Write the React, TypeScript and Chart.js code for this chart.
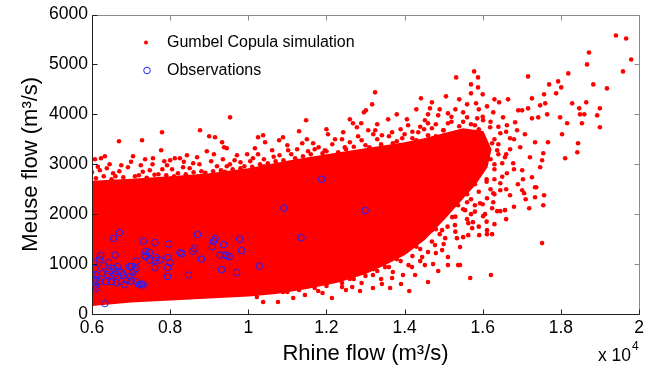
import React, { useEffect, useRef } from 'react';
import { Chart, registerables } from 'chart.js';

Chart.register(...registerables);

const FONT = 'Arial, "Liberation Sans", sans-serif';

// Axis ticks (data units) and the labels shown for them
const xTickValues = [6000, 8000, 10000, 12000, 14000, 16000, 18000, 20000];
const xTickLabels = ['0.6', '0.8', '1', '1.2', '1.4', '1.6', '1.8', '2'];
const yTickValues = [0, 1000, 2000, 3000, 4000, 5000, 6000];
const yTickLabels = ['0', '1000', '2000', '3000', '4000', '5000', '6000'];

// Outline of the saturated (solid red) core of the Gumbel copula simulation cloud
const simCoreOutline: [number, number][] = [
  [6000, 180], [7000, 250], [8000, 290], [9000, 330], [10000, 370], [10700, 420],
  [11500, 520], [12300, 650], [13000, 820], [13500, 1000], [14000, 1200], [14500, 1500],
  [15000, 1900], [15400, 2250], [15800, 2600], [16100, 2950], [16200, 3300], [16000, 3650],
  [15500, 3700], [15000, 3600], [14500, 3500], [14000, 3420], [13000, 3300], [12000, 3180],
  [11000, 3050], [10000, 2900], [9000, 2800], [8000, 2740], [7000, 2690], [6000, 2650], [6000, 180],
];

// Dense speckled band just outside the core
const simEdgeBand: [number, number][] = [
  [6100, 2720], [6300, 2760], [6500, 2700], [6800, 2740], [7100, 2760], [7400, 2730], [7600, 2790],
  [7900, 2780], [8100, 2760], [8400, 2800], [8600, 2840], [8900, 2830], [9100, 2860], [9400, 2850],
  [9600, 2900], [9900, 2960], [10100, 2950], [10300, 3000], [10500, 3020], [10700, 3060], [6200, 2880],
  [6700, 2860], [7300, 2850], [7800, 2900], [8500, 2920], [9200, 2960], [9800, 3040], [10400, 3100],
  [10800, 3180], [11200, 3120], [11600, 3200], [12000, 3260], [12300, 3240], [12700, 3350], [13000, 3380],
  [13400, 3400], [13800, 3460], [14200, 3520], [14600, 3580], [15000, 3680], [15400, 3760], [15800, 3780],
  [11100, 3200], [11800, 3340], [12600, 3440], [13300, 3500], [14000, 3600], [14500, 3700], [15200, 3850],
  [11000, 440], [11300, 480], [11700, 520], [12000, 560], [12400, 620], [12700, 700], [13000, 760],
  [13300, 860], [13600, 940], [13900, 1060], [14200, 1160], [14400, 1300], [14700, 1450], [14900, 1600],
  [15100, 1750], [15300, 1950], [15500, 2100], [15700, 2300], [15900, 2450], [16100, 2650], [16300, 2700],
  [16300, 3000], [16400, 3200], [16300, 3500], [11900, 420], [12500, 480], [12900, 620], [13400, 700],
  [13700, 840], [14100, 980], [14400, 1060], [14800, 1220], [15000, 1400], [15300, 1650], [15600, 1900],
  [15800, 2050], [16000, 2200], [16300, 2400],
];

// Second, looser band of the cloud
const simOuterBand: [number, number][] = [
  [14400, 3750], [14800, 3800], [15200, 3950], [15500, 3850], [15700, 3800], [16000, 3950], [16200, 3850],
  [16400, 3750], [16600, 3650], [15300, 4100], [15600, 4200], [15900, 4100], [16300, 4300], [14600, 4000],
  [14900, 4100], [15400, 4300], [15700, 4600], [16000, 4400], [16800, 3500], [16600, 3200], [16800, 2900],
  [16500, 2750], [16900, 2600], [17100, 2300], [16800, 2150], [16600, 1900], [16300, 1800], [15900, 1750],
  [15700, 2000], [16100, 1850], [6150, 2950], [6450, 3000], [6750, 2980], [7000, 3050], [7250, 2980],
  [7550, 3000], [7850, 3060], [8050, 2900], [8350, 3050], [8750, 3000], [9050, 3060], [9450, 2960],
  [9650, 3080], [10050, 3060], [10250, 3200], [10650, 3150], [11000, 3380], [11250, 3300], [11700, 3300],
  [12150, 3400], [12400, 3500], [12900, 3480], [13200, 3600], [13600, 3560], [13900, 3700], [14200, 3650],
  [11500, 3500], [12000, 3700], [12600, 3900], [13300, 3800], [13800, 4000], [14300, 4100],
];

// Sparse simulation points around the core (upper-left fringe)
const simUpperLeft: [number, number][] = [
  [9533, 3940], [6691, 3460], [7280, 3480], [7792, 3640], [8765, 3680], [9000, 3560], [9150, 3540],
  [9330, 3440], [9380, 3340], [9450, 3320], [10250, 3540], [10380, 3580], [10430, 3440], [10170, 3320],
  [7770, 3280], [7050, 3160], [6077, 3100], [6330, 3160], [6230, 3120], [7360, 3100], [7560, 3120],
  [8000, 3080], [8120, 3120], [8250, 3120], [8430, 3180], [8690, 3140], [8940, 3260], [9120, 3200],
  [9350, 3100], [9710, 3180], [9970, 3200], [10120, 3120], [10610, 3280], [6380, 2920], [6920, 2940],
  [7920, 2980], [8590, 3020], [9530, 3000], [6540, 2820], [7480, 2880], [8330, 2940], [6000, 2840],
  [6600, 2760], [7200, 2780], [7700, 2800], [8200, 2820], [8800, 2860], [9300, 2880], [9800, 2920],
  [10400, 2960], [10900, 3080], [11400, 3160], [11900, 3220], [12500, 3300], [13100, 3340],
  [13700, 3420], [14300, 3480], [14800, 3560], [15300, 3620],
];

// Upper-middle fringe
const simUpperMid: [number, number][] = [
  [13245, 4440], [13170, 4200], [13010, 4080], [12960, 4040], [14420, 4320], [14700, 4240], [14650, 4120],
  [15060, 4360], [15320, 4740], [11480, 3880], [11300, 3660], [10790, 3480], [10890, 3540], [12040, 3600],
  [12430, 3640], [12680, 3820], [12780, 3740], [12890, 3820], [13580, 3900], [14060, 3900], [14520, 3880],
  [14600, 3820], [14860, 3980], [15110, 4020], [15110, 3820], [13070, 3680], [13250, 3680], [13680, 3640],
  [14090, 3780], [14350, 3640], [14700, 3720], [14990, 3680], [11380, 3420], [11660, 3420], [12220, 3500],
  [12810, 3560], [13420, 3580], [13940, 3520], [11960, 3280], [12470, 3340], [11020, 3280], [11530, 3260],
];

// Upper-right tail
const simUpperRight: [number, number][] = [
  [19410, 5580], [19670, 5520], [19800, 5100], [19590, 4860], [18720, 5240], [18670, 5000], [19180, 4520],
  [18830, 4600], [18190, 4820], [17930, 4660], [17700, 4600], [18010, 4540], [17160, 4760], [17880, 4420],
  [17570, 4400], [17260, 4320], [15780, 4860], [15880, 4740], [15880, 4540], [15700, 4420], [15830, 4220],
  [15500, 4040], [15600, 3940], [15860, 3920], [16110, 4160], [16420, 4240], [16650, 4300], [17010, 4080],
  [17160, 4120], [17470, 4180], [17600, 4220], [18290, 4220], [18470, 4120], [18650, 4240], [19000, 4120],
  [18490, 4000], [18600, 4000], [18930, 3980], [19000, 3740], [18540, 3820], [18160, 3820], [17980, 3940],
  [17650, 4000], [17420, 3940], [17260, 3920], [18030, 3600], [17670, 3440], [18440, 3420], [18420, 3240],
  [18110, 3120], [17550, 3220], [17520, 3080], [17470, 2940], [17340, 3440], [17080, 3600], [16880, 3680],
  [16830, 3840], [16520, 3940], [16270, 4040], [16910, 4080], [16620, 3780], [16450, 3620], [16700, 3520],
  [16960, 3340], [17210, 3140], [17010, 2880], [17030, 2700], [17260, 2740], [17340, 2540], [16780, 3020],
  [16570, 3140], [16370, 3280], [16240, 3420], [16190, 3740], [16010, 3880], [16620, 2820], [16450, 2620],
  [16500, 3020], [15500, 3300], [15700, 3100], [15900, 3400], [16000, 3000], [16100, 2700], [15800, 2600],
  [16300, 2900], [16200, 3100], [15900, 3700], [16000, 3500], [16400, 3400], [16700, 3300], [15600, 2400],
  [15900, 2900], [16200, 2500], [16600, 2500],
];

// Lower-right fringe
const simLowerRight: [number, number][] = [
  [17520, 1420], [16210, 780], [15680, 720], [17550, 2180], [17570, 2380], [17340, 2340], [17190, 2120],
  [17370, 2540], [17010, 2480], [17060, 2420], [16700, 2380], [16570, 2080], [16450, 2060], [16370, 2060],
  [16240, 2120], [16270, 2240], [16110, 2320], [15930, 2220], [16060, 2000], [16010, 1960], [15750, 1840],
  [15630, 1820], [15730, 1720], [16110, 1680], [16240, 1600], [16110, 1600], [15910, 1580], [15630, 1580],
  [15500, 1540], [15420, 1340], [15420, 980], [16270, 2420], [16450, 2480], [15800, 2180], [15600, 2240],
  [15550, 2080], [14600, 640], [14120, 460], [13910, 600], [13630, 520], [13420, 600], [13190, 520],
  [12860, 460], [12660, 540], [12400, 540], [12140, 320], [11790, 460], [11450, 380], [11150, 320],
  [10760, 240], [10890, 440], [15110, 980], [14860, 860], [15110, 1140], [15370, 980], [15340, 1520],
  [15040, 1520], [14780, 1380], [14730, 1000], [14520, 980], [14270, 780], [14190, 940], [13960, 780],
  [13680, 720], [14450, 1140], [14600, 1240], [14960, 1280], [15290, 1780], [15220, 1940], [15110, 2120],
  [15370, 2180], [14960, 1680], [14700, 1680], [13500, 940], [13190, 780], [10380, 240], [10220, 340],
  [10560, 440], [12000, 600], [12600, 700], [13200, 900], [13800, 1100], [14300, 1350], [14800, 1700],
  [15200, 2300],
];

// Observations (Rhine flow, Meuse flow)
const observations: [number, number][] = [
  [6700, 1630], [6550, 1510], [7310, 1460], [7610, 1430], [7960, 1400], [8700, 1590], [9150, 1510],
  [9110, 1460], [9080, 1350], [9370, 1390], [9780, 1500], [9830, 1270], [8620, 1310], [8580, 1260],
  [8300, 1210], [8800, 1100], [9280, 1180], [9400, 1180], [9450, 1170], [9510, 1150], [9320, 890],
  [9700, 830], [10280, 960], [8470, 780], [7940, 1130], [7940, 930], [7930, 750], [7610, 930],
  [7740, 1080], [7610, 1070], [7480, 1080], [7380, 1150], [7470, 1230], [7380, 1250], [7340, 1170],
  [7140, 1060], [7010, 950], [7080, 880], [7040, 830], [6960, 950], [6590, 1180], [6220, 1170],
  [6190, 1100], [6050, 1030], [6080, 910], [6310, 970], [6420, 1030], [6650, 950], [6550, 910],
  [6460, 860], [6670, 850], [6760, 830], [6590, 790], [6530, 740], [6390, 790], [6270, 810],
  [6100, 780], [6000, 780], [6080, 690], [6120, 650], [6080, 580], [6100, 510], [6200, 650],
  [6360, 650], [6500, 650], [6630, 630], [6740, 650], [6830, 590], [6890, 680], [7000, 660],
  [7130, 650], [7210, 590], [7310, 580], [7270, 600], [6970, 750], [6800, 780], [6330, 210],
  [8250, 1230], [8000, 1030], [7640, 1130], [7130, 910], [10910, 2120], [11350, 1530], [12990, 2070],
  [11880, 2700],
];

const legendLabels = ['Gumbel Copula simulation', 'Observations'];
const SIM_RED = '#ff0000';
const OBS_BLUE = '#2020ff';

const toXY = (pts: [number, number][]) => pts.map(([x, y]) => ({ x, y }));

const framePlugin = {
  id: 'matlabFrame',
  afterDraw(chart: any) {
    const { ctx, chartArea } = chart;
    const { left, right, top, bottom } = chartArea;
    const xs = chart.scales.x;
    const ys = chart.scales.y;
    ctx.save();
    const L = Math.round(left) + 0.5;
    const R = Math.round(right) + 0.5;
    const T = Math.round(top) + 0.5;
    const B = Math.round(bottom) + 0.5;
    ctx.lineWidth = 1;
    // top & right (grey)
    ctx.strokeStyle = '#8a8a8a';
    ctx.beginPath();
    ctx.moveTo(L, T); ctx.lineTo(R, T); ctx.lineTo(R, B);
    xTickValues.forEach((v) => {
      const p = Math.round(xs.getPixelForValue(v)) + 0.5;
      ctx.moveTo(p, T); ctx.lineTo(p, T + 5);
    });
    yTickValues.forEach((v) => {
      const p = Math.round(ys.getPixelForValue(v)) + 0.5;
      ctx.moveTo(R, p); ctx.lineTo(R - 5, p);
    });
    ctx.stroke();
    // left & bottom (dark)
    ctx.strokeStyle = '#202020';
    ctx.beginPath();
    ctx.moveTo(L, T); ctx.lineTo(L, B); ctx.lineTo(R, B);
    xTickValues.forEach((v) => {
      const p = Math.round(xs.getPixelForValue(v)) + 0.5;
      ctx.moveTo(p, B); ctx.lineTo(p, B - 5);
    });
    yTickValues.forEach((v) => {
      const p = Math.round(ys.getPixelForValue(v)) + 0.5;
      ctx.moveTo(L, p); ctx.lineTo(L + 5, p);
    });
    ctx.stroke();

    // legend
    ctx.font = `16px ${FONT}`;
    ctx.textBaseline = 'middle';
    ctx.textAlign = 'left';
    const lx = left + 54;
    ctx.fillStyle = SIM_RED;
    ctx.beginPath();
    ctx.arc(lx, top + 28, 2, 0, Math.PI * 2);
    ctx.fill();
    ctx.strokeStyle = OBS_BLUE;
    ctx.beginPath();
    ctx.arc(lx + 1, top + 56, 3.3, 0, Math.PI * 2);
    ctx.stroke();
    ctx.fillStyle = '#000';
    ctx.fillText(legendLabels[0], left + 75, top + 28);
    ctx.fillText(legendLabels[1], left + 75, top + 56);

    // x 10^4 multiplier
    ctx.textBaseline = 'alphabetic';
    ctx.font = `17.5px ${FONT}`;
    ctx.fillText('x 10', right - 41, bottom + 47);
    ctx.font = `12px ${FONT}`;
    ctx.fillText('4', right - 7, bottom + 36);
    ctx.restore();
  },
};

export default function App() {
  const ref = useRef<HTMLCanvasElement>(null);
  useEffect(() => {
    const simFringe = [
      ...simEdgeBand, ...simOuterBand, ...simUpperLeft, ...simUpperMid, ...simUpperRight, ...simLowerRight,
    ];
    const chart = new Chart(ref.current as HTMLCanvasElement, {
      type: 'scatter',
      data: {
        datasets: [
          {
            label: legendLabels[1],
            data: toXY(observations),
            pointStyle: 'circle',
            pointRadius: 3.3,
            pointBorderWidth: 1,
            pointBorderColor: OBS_BLUE,
            pointBackgroundColor: 'rgba(0,0,0,0)',
            order: 0,
          } as any,
          {
            label: legendLabels[0],
            data: toXY(simFringe),
            pointStyle: 'circle',
            pointRadius: 2.3,
            pointBorderWidth: 0,
            pointBackgroundColor: SIM_RED,
            order: 1,
          } as any,
          {
            label: 'core',
            data: toXY(simCoreOutline),
            showLine: true,
            fill: 'shape',
            tension: 0,
            borderColor: SIM_RED,
            borderWidth: 2,
            backgroundColor: SIM_RED,
            pointRadius: 0,
            order: 2,
          } as any,
        ],
      },
      options: {
        responsive: false,
        animation: false,
        events: [],
        layout: { padding: { top: 14, right: 15, left: 0, bottom: 0 } },
        plugins: {
          legend: { display: false },
          tooltip: { enabled: false },
        },
        scales: {
          x: {
            type: 'linear',
            min: 6000,
            max: 20000,
            afterBuildTicks: (s: any) => { s.ticks = xTickValues.map((v) => ({ value: v })); },
            afterFit: (s: any) => { s.height = 62; },
            ticks: {
              callback: (v: any) => xTickLabels[xTickValues.indexOf(Number(v))] ?? '',
              font: { size: 17.5, family: FONT },
              color: '#000',
              padding: 4,
              maxRotation: 0,
              autoSkip: false,
            },
            grid: { display: false, drawTicks: false },
            border: { display: false },
            title: {
              display: true,
              text: 'Rhine flow (m³/s)',
              font: { size: 22, family: FONT },
              color: '#000',
              padding: { top: 0, bottom: 9 },
            },
          },
          y: {
            type: 'linear',
            min: 0,
            max: 6000,
            afterBuildTicks: (s: any) => { s.ticks = yTickValues.map((v) => ({ value: v })); },
            afterFit: (s: any) => { s.width = 92; },
            ticks: {
              callback: (v: any) => yTickLabels[yTickValues.indexOf(Number(v))] ?? '',
              font: { size: 17.5, family: FONT },
              color: '#000',
              padding: 4,
              autoSkip: false,
            },
            grid: { display: false, drawTicks: false },
            border: { display: false },
            title: {
              display: true,
              text: 'Meuse flow (m³/s)',
              font: { size: 22, family: FONT },
              color: '#000',
              padding: { top: 18, bottom: 0 },
            },
          },
        },
      } as any,
      plugins: [framePlugin],
    });
    return () => chart.destroy();
  }, []);
  return (
    <div style={{ position: 'absolute', left: 0, top: 0, width: 654, height: 376, background: '#fff' }}>
      <canvas ref={ref} width={654} height={376} style={{ display: 'block', width: 654, height: 376 }} />
    </div>
  );
}
